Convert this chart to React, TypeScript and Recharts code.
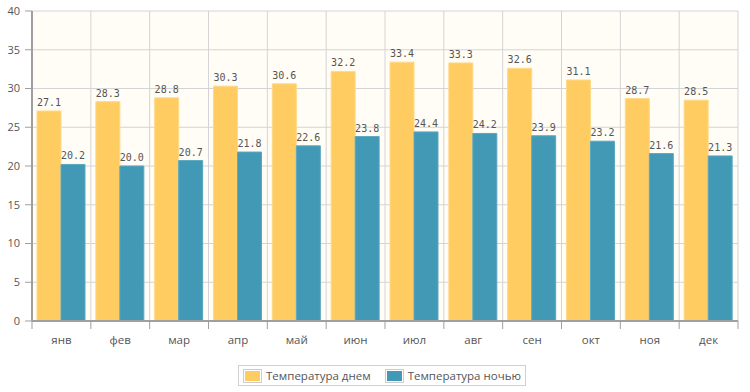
import React from 'react';
import { BarChart, Bar, XAxis, YAxis, CartesianGrid, Legend, LabelList } from 'recharts';

const months = ['янв', 'фев', 'мар', 'апр', 'май', 'июн', 'июл', 'авг', 'сен', 'окт', 'ноя', 'дек'];
const dayTemps = [27.1, 28.3, 28.8, 30.3, 30.6, 32.2, 33.4, 33.3, 32.6, 31.1, 28.7, 28.5];
const nightTemps = [20.2, 20.0, 20.7, 21.8, 22.6, 23.8, 24.4, 24.2, 23.9, 23.2, 21.6, 21.3];
const yTicks = [0, 5, 10, 15, 20, 25, 30, 35, 40];
const seriesNames = ['Температура днем', 'Температура ночью'];
const seriesColors = ['#ffcc62', '#4299b6'];

const data = months.map((m, i) => ({ month: m, day: dayTemps[i], night: nightTemps[i] }));

const AXIS = '#9f9f9f';
const TEXT = '#555555';

const XTick = (props: any) => {
  const { x, y, payload, index, width } = props;
  const half = width / months.length / 2;
  const axisY = y - 15;
  const isLast = index === months.length - 1;
  return (
    <g>
      <line x1={x - half} x2={x - half} y1={axisY} y2={axisY + 8} stroke={AXIS} strokeWidth={1} />
      {isLast && <line x1={x + half} x2={x + half} y1={axisY} y2={axisY + 8} stroke={AXIS} strokeWidth={1} />}
      <text x={x} y={y} dy="0.71em" textAnchor="middle" fill={TEXT} fontSize={11.5} fontFamily="Open Sans">
        {payload.value}
      </text>
    </g>
  );
};

const LegendContent = () => (
  <div style={{ display: 'flex', justifyContent: 'center', paddingLeft: 26 }}>
    <div
      style={{
        display: 'flex',
        alignItems: 'center',
        border: '1px solid #d0d0d0',
        height: 19,
        padding: '0 4px 0 4px',
        background: '#fff',
        fontFamily: 'Open Sans',
        fontSize: 11.5,
        color: TEXT,
      }}
    >
      {seriesNames.map((n, i) => (
        <div key={n} style={{ display: 'flex', alignItems: 'center', marginLeft: i === 0 ? 0 : 14 }}>
          <div style={{ border: '1px solid #cccccc', padding: 1, marginRight: 4 }}>
            <div style={{ width: 15, height: 10, background: seriesColors[i] }} />
          </div>
          <span style={{ whiteSpace: 'nowrap' }}>{n}</span>
        </div>
      ))}
    </div>
  </div>
);

export default function App() {
  return (
    <div style={{ position: 'absolute', left: 0, top: 0, width: 750, height: 392, background: '#fff' }}>
      <BarChart
        width={750}
        height={392}
        data={data}
        margin={{ top: 11, right: 12, bottom: 6, left: 0 }}
        barGap={0}
        barCategoryGap={5}
      >
        <CartesianGrid
          stroke="#d4d4d4"
          fill="#fffdf5"
          fillOpacity={1}
          verticalCoordinatesGenerator={({ offset }: any) =>
            Array.from({ length: months.length + 1 }, (_, i) => offset.left + (i * offset.width) / months.length)
          }
        />
        <XAxis
          dataKey="month"
          height={44}
          tickSize={7}
          tickMargin={8}
          tickLine={false}
          axisLine={{ stroke: AXIS, strokeWidth: 2 }}
          tick={<XTick />}
          interval={0}
        />
        <XAxis xAxisId="top" orientation="top" height={0} tick={false} tickLine={false} axisLine={{ stroke: AXIS, strokeWidth: 2 }} />
        <YAxis
          width={32}
          domain={[0, 40]}
          ticks={yTicks}
          interval={0}
          tickSize={7}
          tickMargin={5}
          tickLine={{ stroke: AXIS }}
          axisLine={{ stroke: AXIS, strokeWidth: 2 }}
          tick={{ fill: TEXT, fontSize: 11, fontFamily: 'Open Sans' }}
        />
        <YAxis yAxisId="right" orientation="right" width={0} tick={false} tickLine={false} axisLine={{ stroke: AXIS, strokeWidth: 2 }} />
        <Legend verticalAlign="bottom" content={<LegendContent />} />
        <Bar dataKey="day" name={seriesNames[0]} fill={seriesColors[0]} stroke="#ffd98a" strokeWidth={1} isAnimationActive={false}>
          <LabelList dataKey="day" position="top" offset={5} fill="#555" fontSize={10} fontFamily="DejaVu Sans Mono" formatter={(v: any) => Number(v).toFixed(1)} />
        </Bar>
        <Bar dataKey="night" name={seriesNames[1]} fill={seriesColors[1]} stroke="#5aa8c2" strokeWidth={1} isAnimationActive={false}>
          <LabelList dataKey="night" position="top" offset={5} fill="#555" fontSize={10} fontFamily="DejaVu Sans Mono" formatter={(v: any) => Number(v).toFixed(1)} />
        </Bar>
      </BarChart>
    </div>
  );
}
